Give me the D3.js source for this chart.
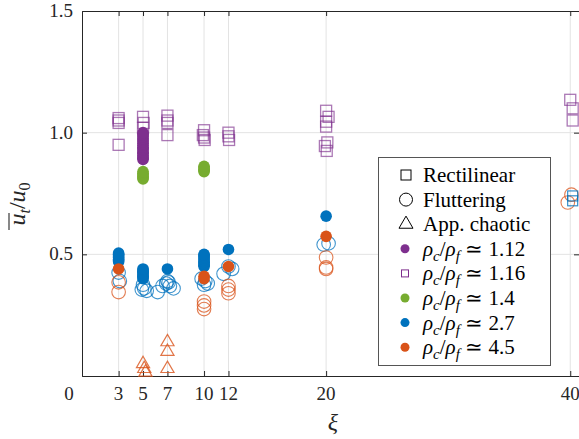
<!DOCTYPE html>
<html>
<head>
<meta charset="utf-8">
<script src="https://cdn.jsdelivr.net/npm/d3@7"></script>
</head>
<body style="margin:0">
<svg id="chart" width="579" height="439"></svg>
<script>
const FONT = "'Liberation Serif'";

// tick values
const xTicks = [3, 5, 7, 10, 12, 20, 40];
const yTicks = [0.5, 1.0, 1.5];

// rho_c/rho_f ~ 1.12, rectilinear (filled purple)
const purpleRect = [[5, 0.89], [5, 0.895], [5, 0.90], [5, 0.907], [5, 0.915], [5, 0.92], [5, 0.93], [5, 0.935],
  [5, 0.94], [5, 0.948], [5, 0.955], [5, 0.962], [5, 0.97], [5, 0.975], [5, 0.983], [5, 0.99], [5, 0.995], [5, 1.0]];
// rho_c/rho_f ~ 1.16, rectilinear (hollow squares)
const lilacRect = [[3, 1.04], [3, 1.05], [3, 1.06], [3, 0.95],
  [5, 1.065], [5.05, 1.04], [5, 1.02],
  [7, 1.07], [7, 1.05], [7, 1.04], [7, 0.99],
  [10, 1.01], [9.9, 0.99], [10, 0.98], [10.05, 0.97],
  [12, 1.0], [12, 0.985], [12.05, 0.97],
  [20, 1.09], [20.2, 1.065], [20, 1.045], [20, 1.025], [20.1, 0.96], [19.9, 0.945], [20.05, 0.925],
  [40, 1.135], [40.2, 1.10], [40.2, 1.05]];
// rho_c/rho_f ~ 1.4, rectilinear (filled green)
const greenRect = [[5, 0.81], [5, 0.815], [5, 0.82], [5, 0.827], [5, 0.833], [5, 0.84],
  [10, 0.84], [10, 0.845], [10, 0.85], [10, 0.856], [10, 0.862]];
// rho_c/rho_f ~ 2.7
const blueRect = [[3, 0.47], [3, 0.475], [3, 0.48], [3, 0.486], [3, 0.49], [3, 0.497], [3, 0.50], [3, 0.505],
  [5, 0.40], [5, 0.405], [5, 0.41], [5, 0.415], [5, 0.42], [5, 0.426], [5, 0.43], [5, 0.436], [5, 0.44],
  [7, 0.44],
  [10, 0.45], [10, 0.455], [10, 0.46], [10, 0.467], [10, 0.47], [10, 0.478], [10, 0.485], [10, 0.49], [10, 0.497], [10, 0.50],
  [12, 0.52], [20, 0.657]];
const blueSquare = [[40.2, 0.74], [40.2, 0.72]];
const blueFlutter = [[3, 0.425], [3.1, 0.39],
  [5, 0.375], [5.1, 0.36], [5.3, 0.35], [4.9, 0.355],
  [6.2, 0.345], [6.6, 0.37], [6.9, 0.38], [7.1, 0.385], [7.2, 0.37], [7.5, 0.36], [7.0, 0.39],
  [9.8, 0.40], [10.1, 0.39], [10.3, 0.38], [10, 0.375],
  [11.6, 0.42], [12.0, 0.45], [12.3, 0.44],
  [19.8, 0.54], [20.2, 0.545]];
// rho_c/rho_f ~ 4.5
const orangeRect = [[3, 0.44], [10, 0.41], [10, 0.40], [12, 0.45], [20, 0.574]];
const orangeFlutter = [[3, 0.385], [3, 0.345],
  [10, 0.306], [10, 0.29], [10, 0.275],
  [12, 0.37], [12, 0.355], [12, 0.34],
  [20, 0.487], [20, 0.446], [20, 0.44],
  [40.1, 0.745], [39.8, 0.713]];
const orangeChaotic = [[5, 0.05], [5.1, 0.03], [5.2, 0.015], [7, 0.14], [7, 0.10], [7, 0.03]];

const legendRows = [
  { kind: 'square', color: '#000', label: 'Rectilinear' },
  { kind: 'circle', color: '#000', label: 'Fluttering' },
  { kind: 'triangle', color: '#000', label: 'App. chaotic' },
  { kind: 'dot', color: '#7E2F8E', ratio: '1.12' },
  { kind: 'smallsquare', color: '#7E2F8E', ratio: '1.16' },
  { kind: 'dot', color: '#77AC30', ratio: '1.4' },
  { kind: 'dot', color: '#0072BD', ratio: '2.7' },
  { kind: 'dot', color: '#D95319', ratio: '4.5' }
];

const svg = d3.select('#chart');
const x = d3.scaleLinear().domain([0, 40.8]).range([82, 580]);
const y = d3.scaleLinear().domain([0, 1.5]).range([376, 11]);

// grid
svg.append('g').selectAll('line').data(xTicks).enter().append('line')
  .attr('x1', d => x(d)).attr('x2', d => x(d)).attr('y1', y(0)).attr('y2', y(1.5))
  .attr('stroke', '#e3e3e3').attr('stroke-width', 1);
svg.append('g').selectAll('line').data([0.5, 1.0]).enter().append('line')
  .attr('x1', x(0)).attr('x2', x(40.8)).attr('y1', d => y(d)).attr('y2', d => y(d))
  .attr('stroke', '#e3e3e3').attr('stroke-width', 1);

// axes (ticks inward)
const axB = svg.append('g').attr('transform', `translate(0,${y(0)})`)
  .call(d3.axisTop(x).tickValues(xTicks).tickSize(5).tickFormat(''));
const axT = svg.append('g').attr('transform', `translate(0,${y(1.5)})`)
  .call(d3.axisBottom(x).tickValues(xTicks).tickSize(5).tickFormat(''));
const axL = svg.append('g').attr('transform', `translate(${x(0)},0)`)
  .call(d3.axisRight(y).tickValues([0.5, 1.0]).tickSize(5).tickFormat(''));
const axR = svg.append('g').attr('transform', `translate(${x(40.8) - 1},0)`)
  .call(d3.axisLeft(y).tickValues([0.5, 1.0]).tickSize(5).tickFormat(''));
[axB, axT, axL, axR].forEach(g => {
  g.attr('font-family', null).attr('font-size', null);
  g.select('.domain').attr('stroke', '#262626');
  g.selectAll('.tick line').attr('stroke', '#262626');
});

// text helper: serif font set as inline style
const serif = sel => sel.style('font-family', FONT);

// tick labels
svg.append('g').selectAll('text').data(xTicks).enter().append('text')
  .call(serif).attr('x', d => x(d)).attr('y', 400).attr('text-anchor', 'middle')
  .attr('font-size', 19).attr('fill', '#262626').text(d => d);
svg.append('text').call(serif).attr('x', 69).attr('y', 400).attr('text-anchor', 'middle')
  .attr('font-size', 19).attr('fill', '#262626').text('0');
svg.append('g').selectAll('text').data(yTicks).enter().append('text')
  .call(serif).attr('x', 73).attr('y', d => y(d) + 6).attr('text-anchor', 'end')
  .attr('font-size', 19).attr('fill', '#262626').text(d => d3.format('.1f')(d));

// axis titles
svg.append('text').call(serif).attr('x', 333).attr('y', 430).attr('text-anchor', 'middle')
  .attr('font-size', 24).attr('font-style', 'italic').attr('fill', '#262626').text('ξ');
const yl = svg.append('text').call(serif).attr('transform', 'translate(25,204) rotate(-90)')
  .attr('text-anchor', 'middle').attr('font-size', 24)
  .attr('font-style', 'italic').attr('fill', '#262626');
yl.append('tspan').text('u');
yl.append('tspan').attr('font-size', 16).attr('dy', 5).text('t');
yl.append('tspan').attr('dy', -5).attr('font-style', 'normal').text('/');
yl.append('tspan').text('u');
yl.append('tspan').attr('font-size', 16).attr('dy', 5).attr('font-style', 'normal').text('0');
// overline over u_t
svg.append('line').attr('transform', 'translate(25,204) rotate(-90)')
  .attr('x1', -26).attr('x2', -9).attr('y1', -16).attr('y2', -16)
  .attr('stroke', '#262626').attr('stroke-width', 1.1);

// markers
const plot = svg.append('g');
const tri = d3.symbol().type(d3.symbolTriangle).size(75);

plot.selectAll('.lilac').data(lilacRect).enter().append('rect')
  .attr('x', d => x(d[0]) - 5.5).attr('y', d => y(d[1]) - 5.5).attr('width', 11).attr('height', 11)
  .attr('fill', 'none').attr('stroke', '#7E2F8E').attr('stroke-opacity', 0.65).attr('stroke-width', 1.3);
plot.selectAll('.purple').data(purpleRect).enter().append('circle')
  .attr('cx', d => x(d[0])).attr('cy', d => y(d[1])).attr('r', 5.8).attr('fill', '#7E2F8E');
plot.selectAll('.green').data(greenRect).enter().append('circle')
  .attr('cx', d => x(d[0])).attr('cy', d => y(d[1])).attr('r', 5.8).attr('fill', '#77AC30');
plot.selectAll('.bflut').data(blueFlutter).enter().append('circle')
  .attr('cx', d => x(d[0])).attr('cy', d => y(d[1])).attr('r', 6.8)
  .attr('fill', 'none').attr('stroke', '#0072BD').attr('stroke-opacity', 0.75).attr('stroke-width', 1.1);
plot.selectAll('.oflut').data(orangeFlutter).enter().append('circle')
  .attr('cx', d => x(d[0])).attr('cy', d => y(d[1])).attr('r', 6.8)
  .attr('fill', 'none').attr('stroke', '#D95319').attr('stroke-opacity', 0.75).attr('stroke-width', 1.1);
plot.selectAll('.brect').data(blueRect).enter().append('circle')
  .attr('cx', d => x(d[0])).attr('cy', d => y(d[1])).attr('r', 5.8).attr('fill', '#0072BD');
plot.selectAll('.orect').data(orangeRect).enter().append('circle')
  .attr('cx', d => x(d[0])).attr('cy', d => y(d[1])).attr('r', 5.8).attr('fill', '#D95319');
plot.selectAll('.bsq').data(blueSquare).enter().append('rect')
  .attr('x', d => x(d[0]) - 5).attr('y', d => y(d[1]) - 5).attr('width', 10).attr('height', 10)
  .attr('fill', 'none').attr('stroke', '#0072BD').attr('stroke-opacity', 0.8).attr('stroke-width', 1.2);
plot.selectAll('.ochaos').data(orangeChaotic).enter().append('path')
  .attr('d', tri).attr('transform', d => `translate(${x(d[0])},${y(d[1])})`)
  .attr('fill', 'none').attr('stroke', '#D95319').attr('stroke-opacity', 0.8).attr('stroke-width', 1.2);

// legend
const lg = svg.append('g');
lg.append('rect').attr('x', 378.5).attr('y', 157.5).attr('width', 172).attr('height', 208)
  .attr('fill', '#fff').attr('stroke', '#555').attr('stroke-width', 1);
const rowY = i => 175 + i * 24.6;
legendRows.forEach((r, i) => {
  const cy = rowY(i), cx = 406;
  if (r.kind === 'square') {
    lg.append('rect').attr('x', cx - 5).attr('y', cy - 5).attr('width', 10).attr('height', 10)
      .attr('fill', 'none').attr('stroke', '#000').attr('stroke-width', 1);
  } else if (r.kind === 'circle') {
    lg.append('circle').attr('cx', cx).attr('cy', cy).attr('r', 6.5)
      .attr('fill', 'none').attr('stroke', '#000').attr('stroke-width', 1);
  } else if (r.kind === 'triangle') {
    lg.append('path').attr('d', d3.symbol().type(d3.symbolTriangle).size(85)())
      .attr('transform', `translate(${cx},${cy})`)
      .attr('fill', 'none').attr('stroke', '#000').attr('stroke-width', 1);
  } else if (r.kind === 'dot') {
    lg.append('circle').attr('cx', cx - 1).attr('cy', cy).attr('r', 4.5).attr('fill', r.color);
  } else {
    lg.append('rect').attr('x', cx - 4.5).attr('y', cy - 3.5).attr('width', 7).attr('height', 7)
      .attr('fill', 'none').attr('stroke', r.color).attr('stroke-width', 1);
  }
  const t = lg.append('text').call(serif).attr('x', 423).attr('y', cy + 7)
    .attr('font-size', 21).attr('fill', '#000');
  if (r.label) {
    t.text(r.label);
  } else {
    t.append('tspan').attr('font-style', 'italic').text('ρ');
    t.append('tspan').attr('font-style', 'italic').attr('font-size', 15).attr('dy', 5).text('c');
    t.append('tspan').attr('dy', -5).text('/');
    t.append('tspan').attr('font-style', 'italic').text('ρ');
    t.append('tspan').attr('font-style', 'italic').attr('font-size', 15).attr('dy', 5).text('f');
    t.append('tspan').attr('dy', -5).text(' ≃ ' + r.ratio);
  }
});
</script>
</body>
</html>
